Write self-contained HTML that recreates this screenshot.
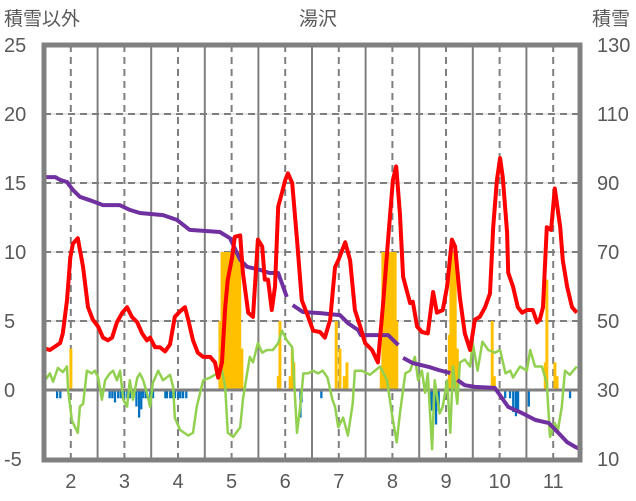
<!DOCTYPE html>
<html><head><meta charset="utf-8"><style>
html,body{margin:0;padding:0;background:#fff;}
svg{display:block;font-family:"Liberation Sans","Noto Sans CJK JP",sans-serif;}
</style></head><body>
<svg id="chart" width="636" height="501"></svg>
<script>
const monthTicks=[2,3,4,5,6,7,8,9,10,11];
const leftTicks=[25,20,15,10,5,0,-5];
const rightTicks=[130,110,90,70,50,30,10];
const redT=[1.52,1.61,1.80,1.85,1.93,1.99,2.04,2.13,2.23,2.32,2.41,2.51,2.60,2.69,2.77,2.86,2.96,3.05,3.14,3.24,3.33,3.42,3.48,3.57,3.66,3.76,3.85,3.94,4.04,4.13,4.19,4.28,4.37,4.47,4.60,4.69,4.75,4.82,4.88,4.93,5.01,5.06,5.16,5.21,5.31,5.40,5.49,5.57,5.62,5.68,5.75,5.81,5.87,5.94,6.00,6.05,6.13,6.22,6.31,6.43,6.52,6.65,6.74,6.84,6.93,6.99,7.06,7.12,7.21,7.30,7.40,7.49,7.62,7.73,7.82,7.92,8.01,8.07,8.14,8.20,8.33,8.38,8.46,8.55,8.66,8.76,8.83,8.94,9.02,9.11,9.17,9.26,9.35,9.45,9.54,9.63,9.73,9.82,9.88,9.95,10.01,10.06,10.14,10.16,10.25,10.34,10.42,10.51,10.62,10.70,10.75,10.81,10.88,10.96,11.03,11.13,11.18,11.26,11.35,11.44];
const redV=[3.0,2.9,3.4,4.1,6.5,9.6,10.6,11.0,8.9,6.0,5.1,4.6,3.8,3.6,3.8,4.9,5.6,6.0,5.3,4.9,4.1,3.6,3.8,3.1,3.1,2.8,3.3,5.3,5.7,6.0,5.1,3.6,2.7,2.4,2.4,2.0,0.9,2.0,6.0,8.0,9.6,11.1,11.2,8.5,5.6,5.3,10.9,10.4,8.0,8.0,5.8,7.5,13.3,14.3,15.2,15.7,15.0,10.9,6.5,5.3,4.3,4.2,3.8,5.1,8.9,9.4,10.1,10.7,9.4,5.8,4.6,3.4,2.9,2.0,6.0,10.9,15.2,16.2,12.8,8.2,6.3,6.4,4.6,4.2,4.1,7.1,5.6,5.8,7.5,10.9,10.4,6.7,4.1,2.9,5.1,5.3,6.0,7.0,11.8,15.2,16.8,15.4,11.4,8.5,7.5,6.0,5.6,5.8,5.8,4.9,5.1,6.0,11.8,11.6,14.6,11.8,9.4,7.5,6.0,5.6];
const purpleT=[1.52,1.71,1.80,1.93,2.04,2.17,2.36,2.60,2.91,3.10,3.29,3.72,3.98,4.22,4.78,4.97,5.16,5.29,5.53,5.71,5.87,6.03,null,6.14,6.33,6.65,7.02,7.17,7.36,7.41,7.92,8.11,null,8.20,8.38,8.68,8.86,9.08,null,9.21,9.35,9.54,9.91,10.16,10.42,10.67,10.92,11.10,11.26,11.41,11.54];
const purpleV=[91.7,91.7,90.9,90.3,88,86,85,83.6,83.6,82.2,81.3,80.7,79.3,76.4,75.8,74,67.7,65.7,64.8,63.9,63.9,57,null,54.6,52.6,52.3,51.7,49.4,47.4,45.9,45.9,43,null,39.3,37.8,36.7,35.8,34.9,null,32.9,31.4,30.9,30.6,25.1,23.3,21.3,20.4,17.5,14.9,13.5,12.6];
const greenT=[1.52,1.61,1.67,1.76,1.85,1.93,1.95,2.02,2.08,2.13,2.17,2.23,2.30,2.39,2.45,2.51,2.58,2.64,2.73,2.79,2.86,2.92,2.98,3.05,3.10,3.16,3.24,3.29,3.35,3.42,3.48,3.53,3.63,3.72,3.85,3.91,3.94,4.04,4.19,4.28,4.35,4.47,4.60,4.73,4.82,4.88,4.93,5.03,5.16,5.21,5.29,5.34,5.40,5.49,5.57,5.66,5.77,5.87,5.94,6.03,6.13,6.18,6.22,6.28,6.34,6.43,6.52,6.61,6.70,6.79,6.88,6.93,6.99,7.08,7.17,7.26,7.30,7.43,7.58,7.77,7.90,7.99,8.08,8.14,8.24,8.33,8.42,8.48,8.55,8.61,8.66,8.74,8.79,8.88,8.94,9.02,9.08,9.13,9.21,9.26,9.35,9.45,9.50,9.59,9.68,9.79,9.91,10.01,10.11,10.20,10.25,10.38,10.51,10.57,10.66,10.79,10.88,10.94,11.03,11.09,11.16,11.22,11.31,11.44];
const greenV=[0.7,1.2,0.6,1.6,1.3,1.7,0,-2.2,-2.7,-3.1,-1.2,-1.0,1.4,1.2,1.4,0.9,-0.7,0.7,1.2,1.4,0.7,1.4,-0.7,-1.2,0.7,-0.7,0.9,1.2,0.7,-0.2,-1.2,0.5,1.4,0.7,1.1,0.2,-2.0,-2.9,-3.3,-3.1,-1.2,0.7,0.9,1.2,1.4,0.2,-3.1,-3.4,-2.7,-0.7,1.2,2.4,2.0,3.4,2.7,2.9,2.9,3.4,4.3,3.6,3.1,-0.2,-3.1,-1.2,1.2,1.2,1.4,1.2,1.4,0.9,-0.7,-1.2,-2.7,-2.0,-3.3,-1.0,1.4,1.4,1.1,1.7,0.7,-1.7,-3.8,-1.7,1.2,1.4,2.4,0.7,1.4,-0.2,1.2,-4.3,0.7,-1.7,-1.2,0.7,-3.1,1.7,-1.0,2.0,2.2,1.7,3.4,1.4,3.5,2.9,2.7,2.9,1.2,1.4,0.9,1.7,1.4,2.9,1.7,1.7,0.5,-3.4,-2.4,-2.9,-1.2,1.4,1.1,1.7];
const orangeT=[2.00,4.78,4.82,4.86,4.90,4.93,4.97,5.00,5.04,5.08,5.12,5.15,5.19,5.87,5.90,6.09,6.13,6.16,6.95,7.02,7.10,7.15,7.79,7.82,7.86,7.90,7.94,7.97,8.01,8.05,8.08,9.06,9.09,9.13,9.17,9.21,9.86,9.90,10.85,10.88,11.03,11.07];
const orangeV=[3,5,10,10,10,10,10,10,10,10,10,10,3,1,5,1,3,2,5,3,1,2,1.5,10,10,10,10,10,10,10,5,4,10,10,10,3,5,1,2,8,2,1];
const blueT=[1.74,1.80,2.72,2.77,2.82,2.88,2.93,2.99,3.05,3.10,3.16,3.22,3.27,3.31,3.35,3.40,3.48,3.53,3.76,3.79,3.85,3.89,3.94,4.00,4.04,4.09,4.15,6.28,6.30,6.67,8.72,8.76,8.81,8.86,10.10,10.19,10.25,10.30,10.34,10.54,11.31];
const blueV=[-0.6,-0.6,-0.6,-0.6,-0.9,-0.6,-0.6,-0.6,-0.6,-0.6,-0.6,-1.2,-2.0,-1.4,-0.6,-0.6,-0.6,-0.6,-0.6,-0.6,-0.6,-0.6,-0.6,-0.6,-0.6,-0.6,-0.6,-2.0,-0.9,-0.6,-1.5,-1.5,-2.5,-1.5,-0.6,-0.6,-1.6,-1.9,-1.6,-1.2,-0.6];

const NS='http://www.w3.org/2000/svg';
const svg=document.getElementById('chart');
const X0=44,X1=580,T0=1.5,T1=11.5;
const xs=t=>X0+(t-T0)/(T1-T0)*(X1-X0);
const yL=v=>390-v*13.8;
const yR=v=>390-(v-30)*3.45;
const barW=(X1-X0)/(T1-T0)/30.5;
function mk(tag,attrs,parent){const e=document.createElementNS(NS,tag);for(const k in attrs)e.setAttribute(k,attrs[k]);(parent||svg).appendChild(e);return e;}

const grid=mk('g',{});


[20,15,10,5].forEach(v=>{
  mk('line',{x1:X0,x2:X1,y1:yL(v),y2:yL(v),stroke:'#d0d0d0','stroke-width':1},grid);
  const d=mk('line',{x1:X0,x2:X1,y1:yL(v),y2:yL(v),stroke:'#7f7f7f','stroke-width':2,'stroke-dasharray':'7,5'},grid);
  
  
});
monthTicks.forEach(m=>{
  const d=mk('line',{x1:xs(m),x2:xs(m),y1:45,y2:460,stroke:'#7f7f7f','stroke-width':2,'stroke-dasharray':'7,5'},grid);
  
  
  const s=mk('line',{x1:xs(m+0.5),x2:xs(m+0.5),y1:45,y2:460,stroke:'#7f7f7f','stroke-width':2},grid);
  
  
});

const ob=mk('g',{fill:'#ffc000'});


orangeT.forEach((t,i)=>{
  const v=orangeV[i];
  const r=mk('rect',{x:xs(t)-barW/2-0.5,y:yL(v),width:barW+1.2,height:yL(0)-yL(v)},ob);
  
  
});
const bb=mk('g',{fill:'#0070c0'});


blueT.forEach((t,i)=>{
  const v=blueV[i];
  const r=mk('rect',{x:xs(t)-barW/2,y:yL(0),width:barW+0.5,height:yL(v)-yL(0)},bb);
  
  
});

const zero=mk('line',{x1:X0,x2:X1,y1:yL(0),y2:yL(0),stroke:'#7f7f7f','stroke-width':3});



function pathOf(T,V,yf){let d='',pen=false;T.forEach((t,i)=>{if(t===null||V[i]===null){pen=false;return;}d+=(pen?'L':'M')+xs(t).toFixed(1)+','+yf(V[i]).toFixed(1);pen=true;});return d;}
const g=mk('path',{d:pathOf(greenT,greenV,yL),fill:'none',stroke:'#92d050','stroke-width':2.5,'stroke-linejoin':'round'});


const p=mk('path',{d:pathOf(purpleT,purpleV,yR),fill:'none',stroke:'#7030a0','stroke-width':4,'stroke-linejoin':'round'});


const r=mk('path',{d:pathOf(redT,redV,yL),fill:'none',stroke:'#ff0000','stroke-width':4,'stroke-linejoin':'round'});



const fr=mk('rect',{x:X0,y:45,width:X1-X0,height:415,fill:'none',stroke:'#808080','stroke-width':5});



leftTicks.forEach(v=>{
  const t=mk('text',{x:4,y:yL(v)+7,'font-size':20,fill:'#595959'});
  t.textContent=v;
  
  
});
rightTicks.forEach(v=>{
  const t=mk('text',{x:597,y:yR(v)+7,'font-size':20,fill:'#595959'});
  t.textContent=v;
  
  
});
monthTicks.forEach(m=>{
  const t=mk('text',{x:xs(m),y:488,'font-size':20,fill:'#595959','text-anchor':'middle'});
  t.textContent=m;
  
  
});
const lt=mk('text',{x:4,y:25,'font-size':19,fill:'#595959'});
lt.textContent='積雪以外';


const rt=mk('text',{x:592,y:25,'font-size':19,fill:'#595959'});
rt.textContent='積雪';


const ct=mk('text',{x:318,y:25,'font-size':19,fill:'#595959','text-anchor':'middle'});
ct.textContent='湯沢';


</script>
</body></html>
